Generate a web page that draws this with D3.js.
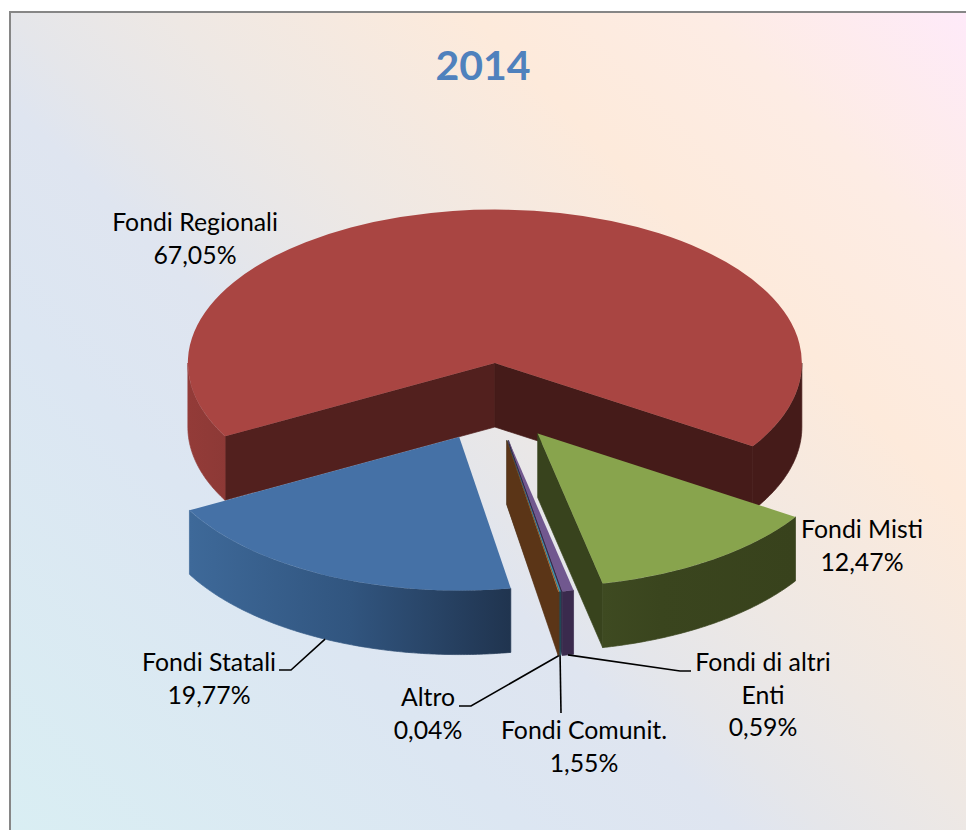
<!DOCTYPE html>
<html>
<head>
<meta charset="utf-8">
<script src="https://cdn.jsdelivr.net/npm/d3@7/dist/d3.min.js"></script>
<style>
html,body{margin:0;padding:0;background:#fff;overflow:hidden}
svg{display:block}
text{font-family:Lato,"Open Sans",sans-serif;fill:#000}
</style>
</head>
<body>
<script>
// ---- data ----
const categories = ["Fondi Regionali","Fondi Misti","Fondi di altri Enti","Fondi Comunit.","Altro","Fondi Statali"];
// share of the circle each slice actually occupies in the picture
const drawnShares = [67.05,12.47,0.59,0.08,0.04,19.77];
// percentages as printed on the labels
const printedLabels = ["67,05%","12,47%","0,59%","1,55%","0,04%","19,77%"];
const labelLines = [["Fondi Regionali"],["Fondi Misti"],["Fondi di altri","Enti"],["Fondi Comunit."],["Altro"],["Fondi Statali"]];
const title = "2014";

// ---- style ----
const topColors  = ["#a94542","#88a44d","#71588f","#4198af","#db843d","#4571a6"];
const startWall  = ["#52201e","#38431d","#3a2a4d","#1f4a55","#5b3517","#274060"];
const endWall    = ["#451b19","#38431d","#3a2a4d","#1f4a55","#5b3517","#274060"];
const sideStops  = [
  [[0,"#933b38"],[0.07,"#8c3936"],[0.9,"#451b19"],[1,"#451b19"]],
  [[0,"#3e4a21"],[0.3,"#3a451e"],[1,"#38421c"]],
  [[0,"#3a2a4d"],[1,"#3a2a4d"]],
  [[0,"#1f4a55"],[1,"#1f4a55"]],
  [[0,"#5b3517"],[1,"#5b3517"]],
  [[0,"#3e6999"],[0.5,"#31557f"],[1,"#20344f"]]
];
const bgStops = [[0,"#d9eef3"],[0.29,"#dce6f2"],[0.41,"#dfe5f0"],[0.46,"#e5e6ea"],[0.55,"#eee8e4"],[0.72,"#fdeadb"],[0.85,"#fdece4"],[1,"#feeaf9"]];

// ---- layout ----
const W = 966, H = 830;
const cx = 492, cy = 402, radius = 307, ky = 0.5, depth = 64;
const explodeX = 75, explodeY = 39;
const startDeg = 241.5;
const sliceNudge = [[0,0],[3,-0.5],[2,0],[2,0],[2,0],[0,0]];
const fontSize = 24.8, lineGap = 32.5;
// first baseline and centre of each label block
const labelPos = [[195,231],[862,538],[763,671],[584,739],[428,706],[209,671]];
// leader bends, from the slice out to the label; null when there is no leader
const leaderBends = [null,null,[[680,671],[691,671]],[[561,713]],[[471,706],[459,706]],[[291,670],[279,670]]];

const svg = d3.select("body").append("svg").attr("width",W).attr("height",H);
const defs = svg.append("defs");

const bg = defs.append("linearGradient").attr("id","bg").attr("gradientUnits","userSpaceOnUse")
  .attr("x1",10).attr("y1",830).attr("x2",897.5).attr("y2",-57.5);
bg.selectAll("stop").data(bgStops).join("stop").attr("offset",d=>d[0]).attr("stop-color",d=>d[1]);

svg.append("rect").attr("x",10).attr("y",12).attr("width",W-10).attr("height",H-12).attr("fill","url(#bg)");
svg.append("path").attr("d",`M10,${H}V12H${W}`).attr("fill","none").attr("stroke","#868686").attr("stroke-width",2);

svg.append("text").attr("x",483).attr("y",80).attr("text-anchor","middle")
  .style("font-size","41px").style("font-weight",700).style("fill","#4f81bd").text(title);

const pie = d3.pie().sort(null).value(d=>d)
  .startAngle(startDeg*Math.PI/180).endAngle(startDeg*Math.PI/180+2*Math.PI);
const arcs = pie(drawnShares);
const arcGen = d3.arc().innerRadius(0).outerRadius(radius);

const origin = (d,i) => {
  const m = (d.startAngle+d.endAngle)/2;
  return [cx+explodeX*Math.sin(m)+sliceNudge[i][0], cy-explodeY*Math.cos(m)+sliceNudge[i][1]];
};
const rimX = (o,a) => o[0]+radius*Math.sin(a);
const rimY = (o,a) => o[1]-radius*ky*Math.cos(a);

const wallLine = d3.line();
const sideArea = o => d3.area().x(a=>rimX(o,a)).y0(a=>rimY(o,a)).y1(a=>rimY(o,a)+depth);

function wallPath(o,a){
  const x=rimX(o,a), y=rimY(o,a);
  return wallLine([[o[0],o[1]],[x,y],[x,y+depth],[o[0],o[1]+depth]])+"Z";
}
function outerPath(d,o){
  let p="";
  [0,2*Math.PI].forEach(k=>{
    const a0=Math.max(d.startAngle,Math.PI/2+k), a1=Math.min(d.endAngle,1.5*Math.PI+k);
    if(a1>a0){
      const n=Math.max(2,Math.ceil((a1-a0)/0.01));
      p+=sideArea(o)(d3.range(n+1).map(i=>a0+(a1-a0)*i/n));
    }
  });
  return p;
}

// draw order: back slice first, then the near ones
arcs.forEach((d,i)=>{
  const o = origin(d,i);
  const g = svg.append("g").attr("class","slice");
  const grad = defs.append("linearGradient").attr("id","side"+i);
  grad.selectAll("stop").data(sideStops[i]).join("stop").attr("offset",s=>s[0]).attr("stop-color",s=>s[1]);
  const walls = [];
  if(Math.sin(d.startAngle)<0) walls.push([d.startAngle,startWall[i]]);
  if(Math.sin(d.endAngle)>0) walls.push([d.endAngle,endWall[i]]);
  walls.forEach(w=>g.append("path").attr("d",wallPath(o,w[0])).attr("fill",w[1]).attr("stroke",w[1]).attr("stroke-width",0.7));
  g.append("path").attr("d",outerPath(d,o)).attr("fill",`url(#side${i})`).attr("stroke",`url(#side${i})`).attr("stroke-width",0.7);
  g.append("path").attr("d",arcGen(d)).attr("fill",topColors[i])
    .attr("transform",`translate(${o[0]},${o[1]}) scale(1,${ky})`);
});

// leaders
arcs.forEach((d,i)=>{
  if(!leaderBends[i]) return;
  const o=origin(d,i), m=(d.startAngle+d.endAngle)/2;
  svg.append("path").attr("fill","none").attr("stroke","#000").attr("stroke-width",1.6)
    .attr("d",d3.line()([[rimX(o,m),rimY(o,m)+depth],...leaderBends[i]]));
});

// labels
categories.forEach((c,i)=>{
  const lines=[...labelLines[i],printedLabels[i]];
  const t=svg.append("text").attr("text-anchor","middle").style("font-size",fontSize+"px");
  lines.forEach((l,k)=>t.append("tspan").attr("x",labelPos[i][0]).attr("y",labelPos[i][1]+k*lineGap).text(l));
});
</script>
</body>
</html>
